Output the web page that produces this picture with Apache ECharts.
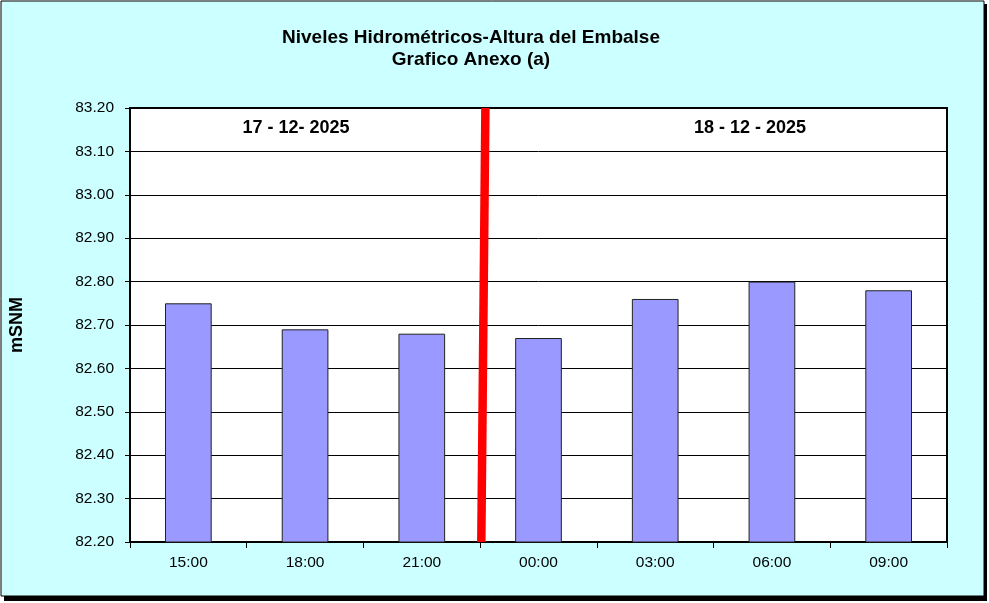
<!DOCTYPE html>
<html><head><meta charset="utf-8">
<script src="https://cdn.jsdelivr.net/npm/echarts@6/dist/echarts.min.js"></script>
<style>html,body{margin:0;padding:0;background:#fff}#c{width:989px;height:603px}</style>
</head><body><div id="c"></div>
<script>
const categories = ['15:00','18:00','21:00','00:00','03:00','06:00','09:00'];
const levels = [82.75, 82.69, 82.68, 82.67, 82.76, 82.80, 82.78];
const dividerX = [3.01, 3.045];
const dividerY = [82.2, 83.2];
const dayLabels = ['17 - 12- 2025', '18 - 12 - 2025'];
const titleLines = ['Niveles Hidrométricos-Altura del Embalse', 'Grafico Anexo (a)'];

const chart = echarts.init(document.getElementById('c'));
const F = 'Arial, "Liberation Sans", sans-serif';
chart.setOption({
  backgroundColor: '#ffffff',
  animation: false,
  graphic: [
    {type:'rect', z:-10, shape:{x:4,y:4,width:983,height:597}, style:{fill:'#000'}},
    {type:'rect', z:-9, shape:{x:1,y:1,width:983,height:595}, style:{fill:'#CCFFFF', stroke:'#000', lineWidth:1}},
    {type:'text', z:10, x:471, y:38, style:{text: titleLines[0], font:'bold 19px '+F, fill:'#000', align:'center', verticalAlign:'middle'}},
    {type:'text', z:10, x:471, y:60, style:{text: titleLines[1], font:'bold 19px '+F, fill:'#000', align:'center', verticalAlign:'middle'}},
    {type:'text', z:10, x:296, y:128, style:{text: dayLabels[0], font:'bold 18px '+F, fill:'#000', align:'center', verticalAlign:'middle'}},
    {type:'text', z:10, x:750, y:128, style:{text: dayLabels[1], font:'bold 18px '+F, fill:'#000', align:'center', verticalAlign:'middle'}}
  ],
  grid: {left:129, right:42, top:108, bottom:61, show:true, backgroundColor:'#fff', borderColor:'#000', borderWidth:2, z:0},
  xAxis: [
    {type:'category', data: categories, boundaryGap:true,
     axisLine:{show:true, lineStyle:{color:'#000', width:2}},
     axisTick:{show:true, length:6, lineStyle:{color:'#000'}},
     axisLabel:{color:'#000', fontSize:15.5, fontFamily:F, margin:13}},
    {type:'value', min:0, max:7, show:false}
  ],
  yAxis: {type:'value', min:82.2, max:83.2, interval:0.1,
    name:'mSNM', nameLocation:'middle', nameGap:104, nameRotate:90,
    nameTextStyle:{color:'#000', fontSize:18, fontWeight:'bold', fontFamily:F},
    axisLine:{show:true, lineStyle:{color:'#000', width:2}},
    axisTick:{show:true, length:5, lineStyle:{color:'#000'}},
    axisLabel:{color:'#000', fontSize:15.5, fontFamily:F, margin:16, formatter: v => v.toFixed(2)},
    splitLine:{show:true, lineStyle:{color:'#000', width:1}}
  },
  series: [
    {type:'bar', xAxisIndex:0, data: levels, barWidth:'40%',
     itemStyle:{color:'#9999FF', borderColor:'#222', borderWidth:1}, z:2},
    {type:'line', xAxisIndex:1, data: dividerX.map((x,i)=>[x, dividerY[i]]), symbol:'none',
     lineStyle:{color:'#FF0000', width:8.5}, z:5}
  ]
});
</script></body></html>
